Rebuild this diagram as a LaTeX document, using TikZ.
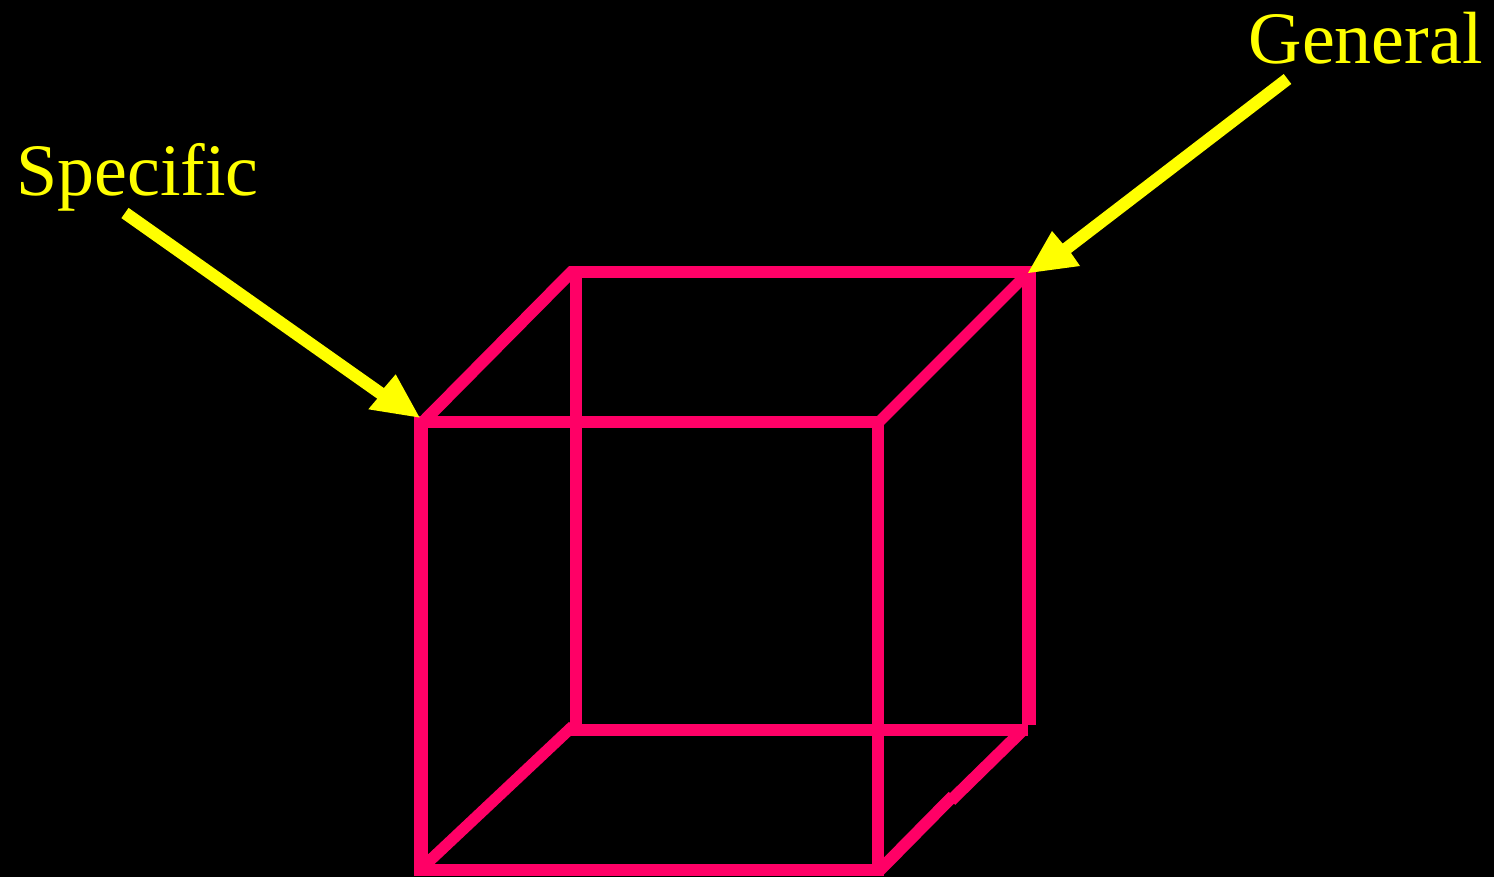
\documentclass[tikz,border=0pt]{standalone}
\usepackage{fontspec}
\setmainfont[Ligatures=NoCommon]{Liberation Serif}
\definecolor{cubepink}{RGB}{255,0,102}
\definecolor{arrowyellow}{RGB}{255,255,0}
\tikzset{
  edgeline/.style={draw=cubepink,line width=12pt,line cap=butt},
  heavyline/.style={draw=cubepink,line width=14pt,line cap=butt},
  pointer/.style={draw=arrowyellow,line width=12.5pt,line cap=butt},
  pointerhead/.style={fill=arrowyellow,draw=none},
  labeltext/.style={text=arrowyellow,inner sep=0pt,font=\fontsize{74}{74}\selectfont,anchor=base west}
}
\begin{document}
\begin{tikzpicture}[x=1pt,y=-1pt]
\useasboundingbox (0,0) rectangle (1494,877);
\fill[black] (0,0) rectangle (1494,877);
% slanted edges
\draw[edgeline] (424,421) -- (573,270.5);
\draw[edgeline,line width=11pt] (878,423) -- (1029,272);
\draw[edgeline,line width=11.5pt] (423,867) -- (573,726);
\draw[edgeline] (880,870) -- (953,796);
\draw[edgeline] (951,800.5) -- (1024,729);
% back face
\draw[edgeline] (568.5,272) -- (1036,272);
\draw[edgeline] (576,272) -- (576,724);
\draw[edgeline] (569,730) -- (1028,730);
\draw[heavyline] (1029,266) -- (1029,725);
% front face
\draw[edgeline] (414,422) -- (884,422);
\draw[heavyline] (421,416) -- (421,876);
\draw[edgeline] (878,416) -- (878,876);
\draw[edgeline] (414,870) -- (884,870);
% labels
\node[labeltext] (spec) at (16,195.5) {Specific};
\node[labeltext] (gen) at (1248.5,63.5) {General};
% arrows
\coordinate (spectail) at (125,213);
\coordinate (specneck) at (390,400);
\coordinate (gentail) at (1287.5,79);
\coordinate (genneck) at (1058,255);
\coordinate (spectip) at (419.5,417.5);
\coordinate (gentip) at (1028,273);
\draw[pointer] (spectail) -- (specneck);
\draw[pointer] (gentail) -- (genneck);
\fill[pointerhead] (spectip) -- (368.3,409.3) -- (377,399) -- (384,388) -- (395.7,374.3) -- cycle;
\fill[pointerhead] (gentip) -- (1052,231) -- (1063,244) -- (1071,253) -- (1080,266) -- cycle;
\end{tikzpicture}
\end{document}
